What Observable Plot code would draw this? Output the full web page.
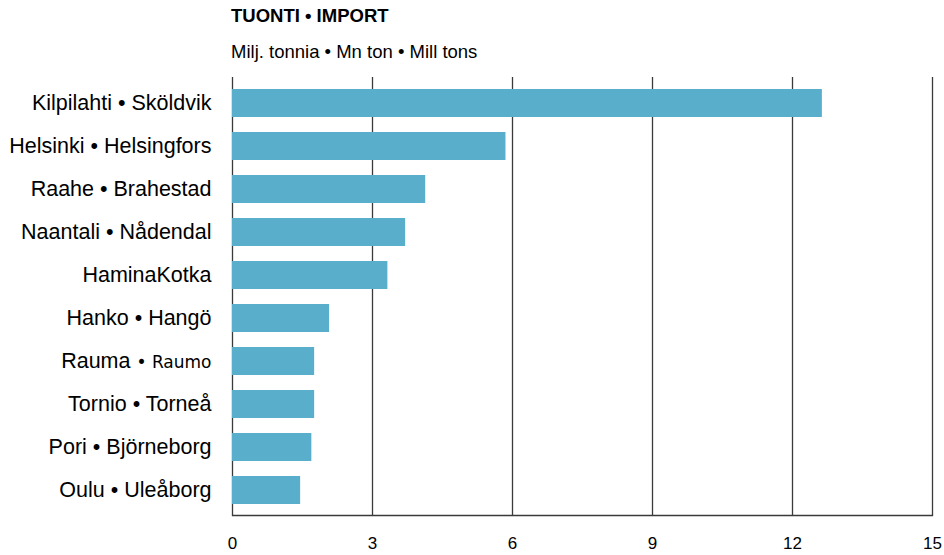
<!DOCTYPE html>
<html>
<head>
<meta charset="utf-8">
<script src="https://cdn.jsdelivr.net/npm/d3@7"></script>
<script src="https://cdn.jsdelivr.net/npm/@observablehq/plot@0.6"></script>
<style>
  body { margin: 0; background: #fff; font-family: "Liberation Sans", Arial, sans-serif; }
  #wrap { position: relative; width: 944px; height: 555px; }
  #title { position: absolute; left: 231px; top: 5px; font-size: 18.5px; font-weight: bold; color: #000; line-height: 1.2; }
  #subtitle { position: absolute; left: 231px; top: 41px; font-size: 18.5px; color: #000; line-height: 1.2; }
  #chart { position: absolute; left: 0; top: 70px; }
</style>
</head>
<body>
<div id="wrap">
  <div id="title">TUONTI • IMPORT</div>
  <div id="subtitle">Milj. tonnia • Mn ton • Mill tons</div>
  <div id="chart"></div>
</div>
<script>
const ports = [
  "Kilpilahti • Sköldvik",
  "Helsinki • Helsingfors",
  "Raahe • Brahestad",
  "Naantali • Nådendal",
  "HaminaKotka",
  "Hanko • Hangö",
  "Rauma • Raumo",
  "Tornio • Torneå",
  "Pori • Björneborg",
  "Oulu • Uleåborg"
];
const values = [12.64, 5.86, 4.14, 3.71, 3.33, 2.08, 1.76, 1.76, 1.70, 1.46];
const xTicks = [0, 3, 6, 9, 12, 15];

const data = ports.map((p, i) => ({port: p, value: values[i]}));

const chart = Plot.plot({
  width: 944,
  height: 485,
  marginLeft: 232,
  marginRight: 12,
  marginTop: 7,
  marginBottom: 40,
  style: {fontFamily: "'Liberation Sans', Arial, sans-serif", color: "#000", background: "#fff"},
  x: {domain: [0, 15], ticks: xTicks},
  y: {domain: ports, range: [19, 434], paddingInner: 0.35, paddingOuter: 0},
  marks: [
    Plot.gridX(xTicks, {stroke: "#3a3a3a", strokeOpacity: 1, strokeWidth: 1.3}),
    Plot.barX(data, {x: "value", y: "port", fill: "#58aecb"}),
    Plot.frame({anchor: "bottom", stroke: "#3a3a3a", strokeWidth: 1.3}),
    Plot.axisX(xTicks, {tickSize: 0, tickPadding: 21, fontSize: 17, label: null}),
    Plot.axisY({tickSize: 0, tickPadding: 21, fontSize: 21.5, label: null})
  ]
});
document.getElementById("chart").appendChild(chart);

// "Raumo" is set in a different, smaller face in the original
d3.select(chart).selectAll("text").each(function() {
  const t = d3.select(this);
  if (t.text() === "Rauma • Raumo") {
    t.text(null);
    t.append("tspan").text("Rauma ");
    t.append("tspan").attr("font-family", "'DejaVu Sans', Verdana, sans-serif").attr("font-size", "17px").text("• Raumo");
  }
});
</script>
</body>
</html>
